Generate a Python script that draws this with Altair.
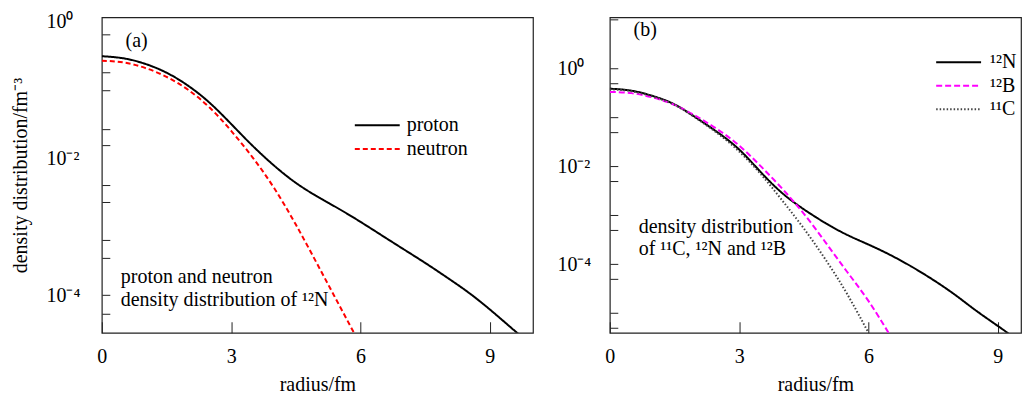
import altair as alt
import pandas as pd

FONT = "Liberation Serif, 'Times New Roman', serif"
FS = 20

# ---------------- panel (a): 12N proton / neutron densities (log10 values)
r_proton = [0, 0.5, 1.0, 1.5, 2.0, 2.5, 3.0, 3.5, 4.0, 4.5, 5.0, 5.5, 6.0, 6.5, 7.0, 7.5, 8.0, 8.5, 9.0, 9.5, 9.8]
log_proton = [-0.51, -0.54, -0.62, -0.75, -0.94, -1.19, -1.50, -1.82, -2.11, -2.36, -2.56, -2.74, -2.93,
              -3.13, -3.33, -3.53, -3.74, -3.96, -4.21, -4.48, -4.64]
r_neutron = [0, 0.5, 1.0, 1.5, 2.0, 2.5, 3.0, 3.5, 4.0, 4.5, 5.0, 5.5, 6.0]
log_neutron = [-0.575, -0.60, -0.68, -0.81, -1.00, -1.26, -1.60, -1.99, -2.44, -2.97, -3.55, -4.14, -4.73]
series_a = ["proton", "neutron"]

# ---------------- panel (b): 12N, 12B, 11C densities
r_12N = [0, 0.5, 1.0, 1.5, 2.0, 2.5, 3.0, 3.5, 4.0, 4.5, 5.0, 5.5, 6.0, 6.5, 7.0, 7.5, 8.0, 8.5, 9.0, 9.3]
log_12N = [-0.42, -0.46, -0.57, -0.74, -1.01, -1.31, -1.66, -2.12, -2.55, -2.88, -3.16, -3.40, -3.60,
           -3.81, -4.05, -4.32, -4.62, -4.95, -5.26, -5.45]
r_12B = [0, 0.5, 1.0, 1.5, 2.0, 2.5, 3.0, 3.5, 4.0, 4.5, 5.0, 5.5, 6.0, 6.5]
log_12B = [-0.487, -0.51, -0.60, -0.75, -0.98, -1.25, -1.58, -2.00, -2.46, -2.97, -3.55, -4.15, -4.75, -5.45]
r_11C = [0, 0.5, 1.0, 1.5, 2.0, 2.5, 3.0, 3.5, 4.0, 4.5, 5.0, 5.5, 6.0]
log_11C = [-0.43, -0.47, -0.58, -0.75, -1.02, -1.33, -1.70, -2.16, -2.70, -3.27, -3.90, -4.60, -5.40]
series_b = ["¹²N", "¹²B", "¹¹C"]

# annotations (text, radius, log10 density)
ann_a_text = ["(a)", "proton and neutron", "density distribution of ¹²N"]
ann_a_r = [0.55, 0.44, 0.44]
ann_a_log = [-0.29, -3.74, -4.07]
ann_b_text = ["(b)", "density distribution", "of ¹¹C, ¹²N and ¹²B"]
ann_b_r = [0.55, 0.67, 0.67]
ann_b_log = [0.77, -3.25, -3.70]

# axis ticks (log10 positions) and labels
ticks_a_log = [0, -0.19, -0.75, -1.0, -1.58, -1.81, -2.0, -2.39, -2.64, -3.2, -3.45, -4.0, -4.28]
ticks_b_log = [1, 0, -0.301, -1, -1.301, -2, -2.301, -3, -3.301, -4, -4.301, -5, -5.301]
label_map = {0: "10⁰", -2: "10⁻²", -4: "10⁻⁴"}
x_ticks = [0, 3, 6, 9]


def frame(series_names, rs, logs):
    rows = []
    for name, rr, ll in zip(series_names, rs, logs):
        for a, b in zip(rr, ll):
            rows.append({"r": a, "rho": 10 ** b, "series": name})
    return pd.DataFrame(rows)


df_a = frame(series_a, [r_proton, r_neutron], [log_proton, log_neutron])
df_b = frame(series_b, [r_12N, r_12B, r_11C], [log_12N, log_12B, log_11C])
ann_a = pd.DataFrame({"r": ann_a_r, "rho": [10 ** v for v in ann_a_log], "txt": ann_a_text})
ann_b = pd.DataFrame({"r": ann_b_r, "rho": [10 ** v for v in ann_b_log], "txt": ann_b_text})

lg = "log(datum.value)/LN10"
label_expr = " : ".join(
    f"abs({lg} - ({k})) < 0.01 ? '{v}'" for k, v in label_map.items()
) + " : ''"


def x_enc(domain):
    return alt.X("r:Q", scale=alt.Scale(domain=domain, nice=False, zero=False),
                 axis=alt.Axis(values=x_ticks, title="radius/fm", format="d",
                               tickSize={"expr": "-11"}, labelPadding=25, titlePadding=8,
                               labelFlush=False, labelOverlap=False))


def y_enc(domain_log, ticks_log, title, hide_ticks, label_pad, title_pad):
    axis_kwargs = dict(values=[10 ** v for v in ticks_log], labelExpr=label_expr,
                       tickSize={"expr": "-8"}, labelPadding=label_pad, labelAlign="left",
                       labelFlush=False, labelOverlap=False, titlePadding=title_pad)
    axis_kwargs["title"] = title if title else None
    if hide_ticks:
        test = " || ".join(f"abs({lg} - ({h})) < 0.01" for h in hide_ticks)
        axis_kwargs["tickOpacity"] = {"condition": {"test": test, "value": 0}, "value": 1}
    return alt.Y("rho:Q", scale=alt.Scale(type="log", domain=[10 ** domain_log[0], 10 ** domain_log[1]],
                                           nice=False),
                 axis=alt.Axis(**axis_kwargs))


# legend symbol: a 45px horizontal stroke drawn with a small nominal size (keeps rows compact)
LEG_PATH = "M-4.5,0H4.5"


def legend(x, y, row_pad, label_off):
    return alt.Legend(orient="none", legendX=x, legendY=y, title=None, symbolType=LEG_PATH,
                      symbolSize=100, symbolStrokeWidth=2, symbolFillColor="transparent",
                      labelFont=FONT, labelFontSize=FS,
                      labelColor="black", labelOffset=label_off, rowPadding=row_pad, padding=0)


# panel (a)
xa = x_enc([0, 10])
ya = y_enc([-4.55, 0.058], ticks_a_log, "density distribution/fm⁻³", [0, -2], 64, 15)
leg_a = legend(266, 98, 4, 19.5)
lines_a = alt.Chart(df_a).mark_line(clip=True, interpolate="natural", strokeWidth=2).encode(
    x=xa, y=ya,
    color=alt.Color("series:N", scale=alt.Scale(domain=series_a, range=["black", "#ff0000"]),
                    legend=leg_a),
    strokeDash=alt.StrokeDash("series:N", scale=alt.Scale(domain=series_a, range=[[1, 0], [5, 3]]),
                              legend=leg_a),
)
text_a = alt.Chart(ann_a).mark_text(align="left", baseline="middle", font=FONT, fontSize=FS,
                                     color="black").encode(x=xa, y=ya, text="txt:N")
panel_a = alt.layer(lines_a, text_a).properties(width=432, height=316)

# panel (b)
xb = x_enc([0, 9.54])
yb = y_enc([-5.40, 1.036], ticks_b_log, None, None, 61, 10)
leg_b = legend(339.5, 35, 3.5, 21.5)
lines_b = alt.Chart(df_b).mark_line(clip=True, interpolate="natural", strokeWidth=2).encode(
    x=xb, y=yb,
    color=alt.Color("series:N", scale=alt.Scale(domain=series_b, range=["black", "#ff00ff", "#444444"]),
                    legend=leg_b),
    strokeDash=alt.StrokeDash("series:N",
                              scale=alt.Scale(domain=series_b, range=[[1, 0], [6, 3], [1.5, 2]]),
                              legend=leg_b),
)
text_b = alt.Chart(ann_b).mark_text(align="left", baseline="middle", font=FONT, fontSize=FS,
                                     color="black").encode(x=xb, y=yb, text="txt:N")
panel_b = alt.layer(lines_b, text_b).properties(width=412, height=316)

chart = (
    alt.hconcat(panel_a, panel_b, spacing=22)
    .resolve_scale(x="independent", y="independent", color="independent", strokeDash="independent")
    .resolve_legend(color="independent", strokeDash="independent")
    .properties(padding={"left": 2, "top": 0, "right": 0, "bottom": 0})
    .configure_view(stroke="#222222", strokeWidth=1.2)
    .configure_axis(labelFont=FONT, titleFont=FONT, labelFontSize=FS, titleFontSize=FS,
                    titleFontWeight="normal", labelColor="black", titleColor="black",
                    grid=False, domain=False, tickColor="#222222", tickWidth=1)
)

chart.save("out.html", embed_options={"renderer": "svg", "actions": False})
